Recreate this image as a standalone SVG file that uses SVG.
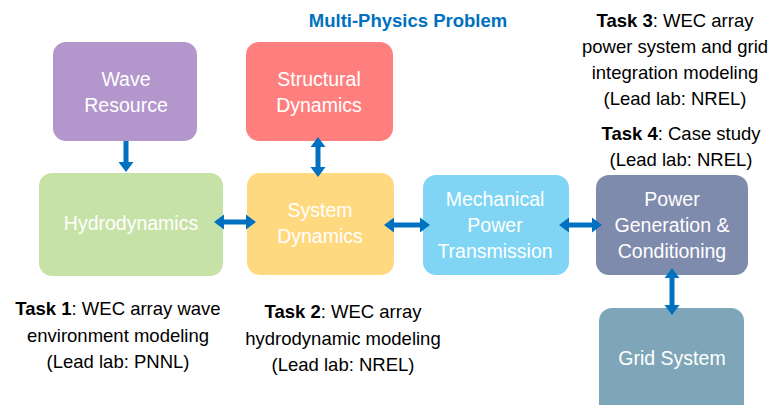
<svg xmlns="http://www.w3.org/2000/svg" width="779" height="405" viewBox="0 0 779 405">
<style>
  .box text { font-family: "Liberation Sans", Arial, sans-serif; font-size: 19.5px; fill: #ffffff; text-anchor: middle; }
  .lbl { font-family: "Liberation Sans", Arial, sans-serif; font-size: 18.5px; fill: #000000; text-anchor: middle; }
  .lbl .b { font-weight: bold; }
  .title { font-family: "Liberation Sans", Arial, sans-serif; font-size: 18.5px; font-weight: bold; fill: #0070C0; text-anchor: middle; }
  .arr { fill: #0070C0; }
</style>
<rect width="779" height="405" fill="#ffffff"/>
<text class="title" x="408" y="27">Multi-Physics Problem</text>

<g id="wave-resource" class="box">
  <rect x="53" y="42" width="144" height="99" rx="13" fill="#B397CC"/>
  <text x="126" y="86">Wave</text>
  <text x="126" y="112">Resource</text>
</g>
<g id="structural-dynamics" class="box">
  <rect x="246" y="42" width="147" height="99" rx="13" fill="#FF7F7F"/>
  <text x="319" y="86">Structural</text>
  <text x="319" y="112">Dynamics</text>
</g>
<g id="hydrodynamics" class="box">
  <rect x="39" y="173" width="184" height="103" rx="13" fill="#C7E2A6"/>
  <text x="131" y="230">Hydrodynamics</text>
</g>
<g id="system-dynamics" class="box">
  <rect x="247" y="173" width="147" height="102" rx="13" fill="#FFD97F"/>
  <text x="320" y="217">System</text>
  <text x="320" y="243">Dynamics</text>
</g>
<g id="mechanical-power" class="box">
  <rect x="423" y="175" width="146" height="100" rx="13" fill="#80D5F5"/>
  <text x="495" y="206">Mechanical</text>
  <text x="495" y="232">Power</text>
  <text x="495" y="258">Transmission</text>
</g>
<g id="power-generation" class="box">
  <rect x="596" y="175" width="152" height="100" rx="13" fill="#7F8BAD"/>
  <text x="672" y="206">Power</text>
  <text x="672" y="232">Generation &amp;</text>
  <text x="672" y="258">Conditioning</text>
</g>
<g id="grid-system" class="box">
  <rect x="599" y="308" width="145" height="110" rx="13" fill="#7FA6B8"/>
  <text x="672" y="365">Grid System</text>
</g>

<g id="connectors" class="arr">
  <polygon points="123.5,141 128.5,141 128.5,162 133.5,162 126,172 118.5,162 123.5,162"/>
  <polygon points="318,137 325.5,147 320.5,147 320.5,167 325.5,167 318,177 310.5,167 315.5,167 315.5,147 310.5,147"/>
  <polygon points="214,222 224,214.5 224,219.5 246,219.5 246,214.5 256,222 246,229.5 246,224.5 224,224.5 224,229.5"/>
  <polygon points="384,225 394,217.5 394,222.5 420,222.5 420,217.5 430,225 420,232.5 420,227.5 394,227.5 394,232.5"/>
  <polygon points="559,225 569,217.5 569,222.5 592,222.5 592,217.5 602,225 592,232.5 592,227.5 569,227.5 569,232.5"/>
  <polygon points="672,268 679.5,278 674.5,278 674.5,305 679.5,305 672,315 664.5,305 669.5,305 669.5,278 664.5,278"/>
</g>

<g id="task1">
  <text class="lbl" x="118" y="315"><tspan class="b">Task 1</tspan>: WEC array wave</text>
  <text class="lbl" x="118" y="342">environment modeling</text>
  <text class="lbl" x="118" y="368">(Lead lab: PNNL)</text>
</g>
<g id="task2">
  <text class="lbl" x="343" y="318"><tspan class="b">Task 2</tspan>: WEC array</text>
  <text class="lbl" x="343" y="345">hydrodynamic modeling</text>
  <text class="lbl" x="343" y="371">(Lead lab: NREL)</text>
</g>
<g id="task3">
  <text class="lbl" x="675" y="27"><tspan class="b">Task 3</tspan>: WEC array</text>
  <text class="lbl" x="675" y="53">power system and grid</text>
  <text class="lbl" x="675" y="79">integration modeling</text>
  <text class="lbl" x="675" y="105">(Lead lab: NREL)</text>
</g>
<g id="task4">
  <text class="lbl" x="681" y="140"><tspan class="b">Task 4</tspan>: Case study</text>
  <text class="lbl" x="681" y="166">(Lead lab: NREL)</text>
</g>
</svg>
